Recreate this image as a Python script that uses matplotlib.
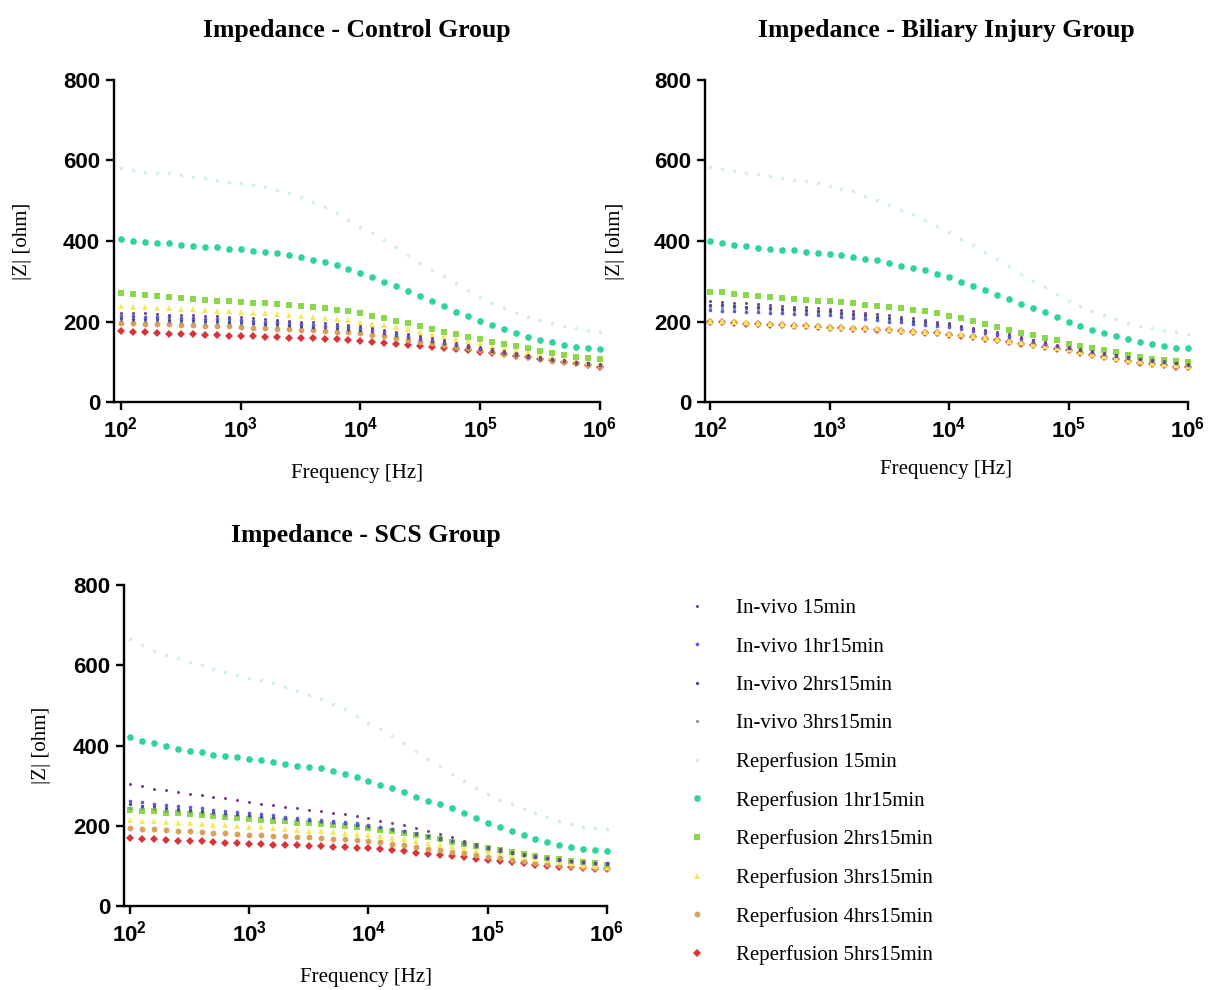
import numpy as np
import matplotlib
matplotlib.use("Agg")
import matplotlib.pyplot as plt
from matplotlib.ticker import FixedLocator, NullLocator, FuncFormatter

plt.rcParams['mathtext.fontset'] = 'custom'
plt.rcParams['mathtext.rm'] = 'Liberation Sans:bold'
plt.rcParams['mathtext.it'] = 'Liberation Sans:bold'
plt.rcParams['mathtext.bf'] = 'Liberation Sans:bold'

# ---------------- data ----------------
freq = np.logspace(2, 6, 41)  # measurement frequency sweep, 10 points per decade

series_names = ["In-vivo 15min", "In-vivo 1hr15min", "In-vivo 2hrs15min", "In-vivo 3hrs15min",
                "Reperfusion 15min", "Reperfusion 1hr15min", "Reperfusion 2hrs15min",
                "Reperfusion 3hrs15min", "Reperfusion 4hrs15min", "Reperfusion 5hrs15min"]

# Control group
control_iv15 = [222,221,220,218,217,216,215,214,213,211,210,208,206,204,202,200,198,196,194,191,188,183,178,173,168,163,158,153,147,142,137,132,127,122,117,112,108,104,100,97,94]
control_iv1h = [214,213,212,211,210,209,208,207,206,205,204,202,200,198,196,194,192,190,188,186,184,179,174,170,165,160,155,150,144,139,134,129,124,120,115,110,107,103,100,96,93]
control_iv2h = [208,207,206,205,204,204,203,202,201,200,199,197,195,193,191,189,187,186,184,182,180,176,171,166,162,157,152,147,142,137,132,127,122,118,113,108,105,101,98,95,92]
control_iv3h = [203,202,201,201,200,199,198,197,197,196,195,193,191,190,188,186,184,183,181,179,177,173,168,164,159,155,150,145,140,135,130,125,121,116,112,107,104,101,97,94,91]
control_r15 = [581,576,572,570,568,564,560,556,551,547,543,539,534,527,519,509,497,484,469,452,435,419,402,384,365,346,328,312,296,278,261,247,233,222,211,203,196,190,184,179,174]
control_r1h = [404,401,398,396,394,391,388,386,384,381,379,376,373,369,365,360,354,347,340,330,320,310,299,288,276,264,251,238,224,213,202,191,181,171,162,155,148,142,137,134,131]
control_r2h = [270,268,267,264,262,259,257,254,252,250,248,246,245,243,241,239,237,233,229,225,220,214,208,202,196,188,181,175,169,162,156,150,144,138,133,127,122,117,113,109,106]
control_r3h = [238,237,235,234,233,231,230,229,227,226,224,222,221,219,217,214,212,209,206,203,199,195,191,187,181,175,169,163,157,151,146,140,134,129,123,117,112,108,104,100,96]
control_r4h = [197,196,195,194,193,192,191,190,189,188,187,185,184,182,181,179,178,176,175,173,171,167,163,159,154,150,146,142,137,133,129,125,120,116,111,107,103,100,96,92,89]
control_r5h = [176,175,173,172,170,169,168,167,166,165,164,163,162,161,160,159,158,157,156,154,152,150,147,145,142,139,136,134,131,128,125,122,119,115,112,108,104,100,96,92,88]

# Biliary injury group
biliary_iv15 = [250,248,246,245,243,241,239,237,235,234,232,229,226,222,219,215,212,208,204,200,196,190,185,179,174,168,162,155,149,142,136,131,126,122,117,112,108,105,101,98,94]
biliary_iv1h = [228,227,225,224,223,222,220,219,218,216,215,212,209,206,203,200,198,195,192,189,186,181,176,172,167,162,156,150,145,139,133,128,124,119,115,110,107,103,100,96,93]
biliary_iv2h = [242,240,239,237,235,234,232,230,228,227,225,222,218,215,211,208,205,201,198,194,191,186,181,175,170,165,159,153,146,140,134,129,125,120,116,111,107,104,100,97,93]
biliary_iv3h = [236,234,233,231,230,228,226,225,223,222,220,217,214,211,207,204,201,198,194,191,188,183,178,173,168,163,157,151,145,139,133,128,124,119,115,110,106,103,99,96,92]
biliary_r15 = [585,580,575,570,566,561,556,552,548,543,537,530,523,513,502,490,478,466,453,438,423,406,389,373,356,337,318,301,285,268,252,239,226,215,205,197,190,184,178,173,168]
biliary_r1h = [399,395,389,387,383,381,378,377,373,370,367,364,360,356,352,346,339,333,327,318,310,299,289,278,267,256,243,233,223,210,199,189,179,171,163,156,150,145,139,135,133]
biliary_r2h = [274,273,268,266,263,260,258,256,253,252,250,248,245,242,238,235,233,229,227,220,214,208,202,195,187,179,172,166,160,153,145,139,133,128,123,118,113,108,105,102,100]
biliary_r3h = [202,201,200,198,197,195,194,192,191,190,187,187,185,185,183,181,179,177,175,174,170,168,165,160,156,152,148,144,140,135,131,125,120,115,110,105,101,97,94,91,90]
biliary_r4h = [200,199,198,196,195,193,192,190,189,188,185,185,183,183,181,179,177,175,173,172,168,166,163,158,154,150,146,142,138,133,129,123,118,113,108,103,99,95,92,89,88]
biliary_r5h = [199,198,197,195,194,192,191,189,188,187,184,184,182,182,180,178,176,174,172,171,167,165,162,157,153,149,145,141,137,132,128,122,117,112,107,102,98,94,91,88,87]

# SCS group
scs_iv15 = [303,298,292,288,283,280,276,272,268,263,258,255,251,247,243,240,236,233,229,225,219,213,207,201,194,187,179,171,163,155,148,141,135,129,124,119,115,112,110,108,107]
scs_iv1h = [261,258,255,252,249,246,243,240,237,235,232,229,226,223,220,217,215,212,209,206,203,198,193,187,181,175,169,163,157,150,144,138,133,128,124,120,116,113,110,108,106]
scs_iv2h = [253,250,248,245,242,240,237,235,232,230,228,225,222,220,217,214,212,209,206,203,200,196,191,186,180,174,168,162,156,150,144,138,133,128,123,119,115,112,109,107,105]
scs_iv3h = [245,243,241,238,236,234,232,230,228,226,224,221,219,216,214,212,209,207,204,201,198,194,189,184,179,173,167,161,155,149,143,137,132,127,122,118,114,111,108,106,104]
scs_r15 = [665,650,636,626,617,608,600,591,583,576,569,562,555,546,537,526,515,503,490,474,457,440,423,405,386,367,348,329,311,294,278,265,253,242,232,221,211,204,197,194,192]
scs_r1h = [421,412,407,398,392,387,383,377,373,371,367,363,358,354,350,347,344,337,330,321,311,302,293,283,272,262,253,243,232,220,208,197,186,176,167,159,153,147,142,139,136]
scs_r2h = [240,238,236,233,231,229,227,224,222,220,217,215,213,211,208,206,204,201,199,197,194,190,186,181,176,171,166,160,155,149,144,139,134,129,124,120,116,112,109,106,103]
scs_r3h = [215,213,212,210,208,207,205,203,202,200,198,196,194,192,190,188,186,184,182,180,178,174,170,166,162,158,153,149,145,140,136,131,127,122,118,114,110,106,103,100,98]
scs_r4h = [194,192,191,189,188,186,184,183,181,180,178,177,175,174,172,171,169,168,166,165,163,159,155,151,147,143,139,135,131,127,123,119,115,112,108,105,102,99,97,95,94]
scs_r5h = [169,168,166,165,163,162,161,159,158,156,155,154,153,152,151,150,149,148,147,145,144,141,139,136,133,130,127,124,121,118,115,112,109,106,103,100,98,96,94,93,92]

groups = [
    ("Impedance - Control Group",
     [control_iv15, control_iv1h, control_iv2h, control_iv3h, control_r15,
      control_r1h, control_r2h, control_r3h, control_r4h, control_r5h]),
    ("Impedance - Biliary Injury Group",
     [biliary_iv15, biliary_iv1h, biliary_iv2h, biliary_iv3h, biliary_r15,
      biliary_r1h, biliary_r2h, biliary_r3h, biliary_r4h, biliary_r5h]),
    ("Impedance - SCS Group",
     [scs_iv15, scs_iv1h, scs_iv2h, scs_iv3h, scs_r15,
      scs_r1h, scs_r2h, scs_r3h, scs_r4h, scs_r5h]),
]

# ---------------- styles ----------------
colors = ["#7a3e8e", "#5b5bd8", "#3f4a8c", "#8f8aa6", "#cdeeee",
          "#2fd3a0", "#8cd84c", "#f4ea5e", "#d9a05a", "#d8343c"]
markers = ["o", "o", "o", "o", "o", "o", "s", "^", "h", "D"]
msizes = [2.2, 2.6, 2.4, 2.2, 2.4, 4.8, 4.6, 4.4, 4.6, 4.2]

W, H = 1215, 990
fig = plt.figure(figsize=(W / 100, H / 100), dpi=100)

# axes rectangles in pixel space: (left, top, right, bottom, xleft_exponent)
rects = [(114, 80, 600, 402, 1.942),
         (705, 80, 1188, 402, 1.958),
         (124, 585, 607, 906, 1.95)]
xlabel_pads = [16, 13, 16]
ylabel_pads = [22, 21, 16]

title_font = dict(family="Liberation Serif", weight="bold", size=18.5)
label_font = dict(family="Liberation Serif", size=15)

axes = []
for i, ((title, data), (l, t, r, b, xl)) in enumerate(zip(groups, rects)):
    ax = fig.add_axes([l / W, 1 - b / H, (r - l) / W, (b - t) / H])
    axes.append(ax)
    for k in range(len(series_names)):
        ax.plot(freq, data[k], linestyle="none", marker=markers[k], ms=msizes[k],
                color=colors[k], markeredgewidth=0, zorder=20 - k,
                label=series_names[k], clip_on=False)
    ax.set_xscale("log")
    ax.set_xlim(10 ** xl, 1e6)
    ax.set_ylim(0, 800)
    ax.xaxis.set_major_locator(FixedLocator([1e2, 1e3, 1e4, 1e5, 1e6]))
    ax.xaxis.set_minor_locator(NullLocator())
    ax.xaxis.set_major_formatter(FuncFormatter(lambda v, p: r"$10^{%d}$" % round(np.log10(v))))
    ax.yaxis.set_major_locator(FixedLocator([0, 200, 400, 600, 800]))
    for s in ["top", "right"]:
        ax.spines[s].set_visible(False)
    for s in ["left", "bottom"]:
        ax.spines[s].set_linewidth(1.7)
    ax.tick_params(axis="both", direction="out", length=6, width=1.7, pad=4,
                   labelsize=16)
    for lab in ax.get_yticklabels():
        lab.set_fontfamily("Liberation Sans")
        lab.set_fontweight("bold")
    ax.set_title(title, pad=31, **title_font)
    ax.set_xlabel("Frequency [Hz]", labelpad=xlabel_pads[i], **label_font)
    ax.set_ylabel("|Z| [ohm]", labelpad=ylabel_pads[i], **label_font)

handles, labels = axes[0].get_legend_handles_labels()
leg = fig.legend(handles, labels, loc="upper left", bbox_to_anchor=(663 / W, 1 - 580 / H),
                 frameon=False, prop=dict(family="Liberation Serif", size=15),
                 labelspacing=0.9, handletextpad=1.08, handlelength=1.5, markerscale=1.0)

fig.savefig("out.png", dpi=100)
